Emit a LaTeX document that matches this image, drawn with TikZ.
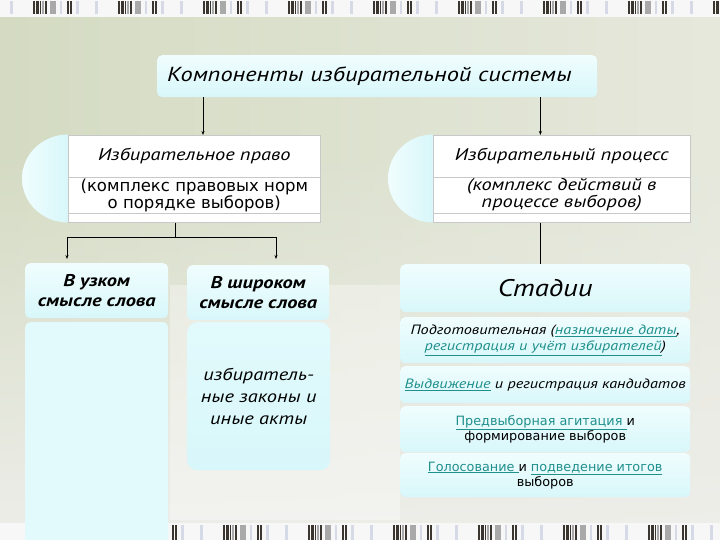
\documentclass[tikz,border=0pt]{standalone}
\usepackage{fontspec}
\setmainfont{DejaVu Sans}
\newfontfamily\itf{PT Sans}[FakeStretch=1.2]
\usetikzlibrary{arrows.meta,fadings,calc}
\definecolor{bgL}{HTML}{D4DBC2}
\definecolor{bgR}{HTML}{E6E8DC}
\definecolor{bgB}{HTML}{EEEEEA}
\definecolor{cyT}{HTML}{F0FDFE}
\definecolor{cyB}{HTML}{D8F7FA}
\definecolor{cyM}{HTML}{E2FAFC}
\definecolor{rowline}{HTML}{C8C8C8}
\definecolor{linkc}{HTML}{1F908C}
\definecolor{barD}{HTML}{3A352F}
\definecolor{barG}{HTML}{A9A9A9}
\definecolor{barL}{HTML}{D5DAE6}
\definecolor{stripbg}{HTML}{F7F7F8}
\tikzfading[name=fadeup, top color=transparent!100, bottom color=transparent!0]
\newcommand\lnk[1]{\textcolor{linkc}{\underline{#1}}}
\begin{document}
\begin{tikzpicture}[x=1pt,y=-1pt,
  cyanbox/.style={shade, top color=cyT, bottom color=cyB, rounded corners=5pt, draw=none, inner sep=0pt, align=center},
  rowbox/.style={fill=white, draw=rowline, line width=0.6pt, inner sep=0pt, anchor=north west, align=center},
  arr/.style={draw=black, line width=0.8pt, -{Stealth[length=4pt,width=3pt]}},
  conn/.style={draw=black, line width=0.8pt},
]
\useasboundingbox (0,0) rectangle (720,540);
% background
\shade[left color=bgL, right color=bgR] (0,0) rectangle (720,540);
\fill[bgB, path fading=fadeup] (0,150) rectangle (720,540);
\fill[white, opacity=0.35] (170,285) rectangle (400,520);
% barcode strips
\fill[stripbg] (0,0) rectangle (720,17);
\fill[stripbg] (0,523) rectangle (720,540);
\foreach \k in {0,...,8}{
  \foreach \a/\w/\c in {10/3/barL,33/2/barD,36/3/barD,40/1/barD,42/2/barG,45/2/barD,50/6/barG,60/2/barL,67/2/barD,70/2/barD,76/3/barL}{
    \fill[\c] ({\a+85*\k},1) rectangle ++(\w,13);
    \fill[\c] ({\a+85*\k+20},525) rectangle ++(\w,15);
  }
}
% title
\node[cyanbox, anchor=north west, minimum width=440pt, minimum height=42pt, text width=420pt, align=left,
  font=\itf\itshape\fontsize{20.3}{24}\selectfont]
  (title) at (157,55) {Компоненты избирательной системы};
% half discs
\shade[left color=cyT, right color=cyB] (68,134.5) arc[start angle=90, end angle=270, x radius=46pt, y radius=44pt] -- cycle;
\shade[left color=cyT, right color=cyB] (433,134.5) arc[start angle=90, end angle=270, x radius=45pt, y radius=44pt] -- cycle;
% law box
\node[rowbox, minimum width=252pt, minimum height=42pt, font=\itf\itshape\fontsize{17}{20}\selectfont] (lawT) at (68,135)
  {Избирательное право};
\node[rowbox, minimum width=252pt, minimum height=36pt, font=\fontsize{16.5}{17}\selectfont] (lawD) at (68,177)
  {(комплекс правовых норм\\о порядке выборов)};
\node[rowbox, minimum width=252pt, minimum height=9pt] (lawE) at (68,213) {};
% process box
\node[rowbox, minimum width=257pt, minimum height=42pt, font=\itf\itshape\fontsize{17}{20}\selectfont] (procT) at (433,135)
  {Избирательный процесс};
\node[rowbox, minimum width=257pt, minimum height=36pt, font=\itf\itshape\fontsize{17}{17}\selectfont] (procD) at (433,177)
  {(комплекс действий в\\процессе выборов)};
\node[rowbox, minimum width=257pt, minimum height=9pt] (procE) at (433,213) {};
% lower left boxes
\node[cyanbox, anchor=north west, minimum width=143pt, minimum height=55pt, font=\itf\itshape\bfseries\fontsize{17}{20}\selectfont] (narrow) at (25,263)
  {В узком\\смысле слова};
\node[cyanbox, anchor=north west, minimum width=143pt, minimum height=222pt, top color=cyM, bottom color=cyM] (narrowbody) at (25,322) {};
\node[cyanbox, anchor=north west, minimum width=142pt, minimum height=55pt, font=\itf\itshape\bfseries\fontsize{17}{20}\selectfont] (wide) at (187,265)
  {В широком\\смысле слова};
\node[cyanbox, anchor=north west, minimum width=143pt, minimum height=148pt, rounded corners=10pt, top color=cyM, bottom color=cyB,
  font=\itf\itshape\fontsize{17}{22}\selectfont] (widebody) at (187,322)
  {избиратель-\\ные законы и\\иные акты};
% stages
\node[cyanbox, anchor=north west, minimum width=290pt, minimum height=48pt, font=\itf\itshape\fontsize{24}{28}\selectfont] (stages) at (400,264)
  {Стадии};
\node[cyanbox, anchor=north west, minimum width=290pt, minimum height=46pt, font=\itf\itshape\fontsize{13.5}{16}\selectfont] (st1) at (400,317)
  {Подготовительная (\lnk{назначение даты},\\\lnk{регистрация и учёт избирателей})};
\node[cyanbox, anchor=north west, minimum width=290pt, minimum height=37pt, font=\itf\itshape\fontsize{13.5}{16}\selectfont] (st2) at (400,366)
  {\lnk{Выдвижение} и регистрация кандидатов};
\node[cyanbox, anchor=north west, minimum width=290pt, minimum height=46pt, font=\fontsize{12.8}{15}\selectfont] (st3) at (400,406)
  {\lnk{Предвыборная агитация }и\\формирование выборов};
\node[cyanbox, anchor=north west, minimum width=290pt, minimum height=44pt, font=\fontsize{12.8}{15}\selectfont] (st4) at (400,453)
  {\lnk{Голосование }и \lnk{подведение итогов}\\выборов};
% connectors
\draw[arr] ([xshift=46pt]title.south west) -- ([xshift=46pt]title.south west |- lawT.north);
\draw[arr, line width=1.3pt] ([xshift=-57pt]title.south east) -- ([xshift=-57pt]title.south east |- procT.north);
\draw[conn] ([xshift=107pt]lawE.south west) -- ++(0,15) coordinate (jn);
\draw[arr] (jn) -| ([xshift=42pt,yshift=4pt]narrow.north west);
\draw[arr] (jn) -| ([xshift=89pt,yshift=6pt]wide.north west);
\draw[conn] ([xshift=107pt]procE.south west) -- ([xshift=107pt]procE.south west |- stages.north);
\end{tikzpicture}
\end{document}
